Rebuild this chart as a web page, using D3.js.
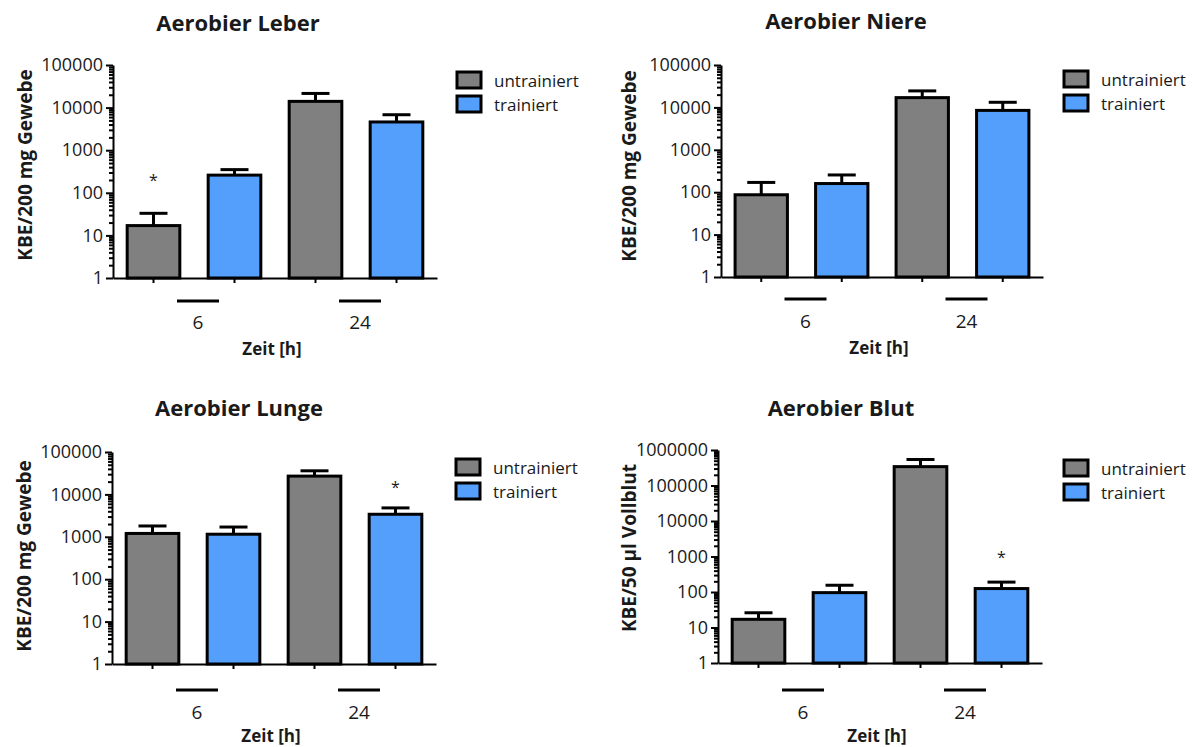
<!DOCTYPE html>
<html lang="de">
<head>
<meta charset="UTF-8">
<title>Aerobier KBE</title>
<style>
  body { margin: 0; background: #fff; }
  text { font-family: "Open Sans", "DejaVu Sans", sans-serif; fill: #1a1a1a; }
  .axis path, .axis line { stroke: #000; stroke-width: 2px; }
  .bar { stroke: #000; stroke-width: 3px; }
  .err { stroke: #000; stroke-width: 3px; }
</style>
</head>
<body>
<div id="chart"></div>
<script src="https://d3js.org/d3.v7.min.js"></script>
<script>
// categories
var groups = ["6", "24"];
var series = ["untrainiert", "trainiert"];
var colors = ["#808080", "#559ffc"];

// bar order: 6h untrainiert, 6h trainiert, 24h untrainiert, 24h trainiert
var leberMean = [17, 260, 14000, 4600];
var leberUpper = [33, 350, 21500, 6800];
var niereMean = [87, 160, 17000, 8500];
var niereUpper = [170, 255, 24500, 13200];
var lungeMean = [1200, 1150, 27000, 3400];
var lungeUpper = [1800, 1700, 36000, 4800];
var blutMean = [17, 96, 340000, 125];
var blutUpper = [26, 155, 540000, 190];

// significance stars: bar index and level (in axis units)
var leberStar = [{bar: 0, level: 235}];
var lungeStar = [{bar: 3, level: 17500}];
var blutStar = [{bar: 3, level: 1170}];

var tissueTicks = [1, 10, 100, 1000, 10000, 100000];
var bloodTicks = [1, 10, 100, 1000, 10000, 100000, 1000000];

var svg = d3.select("#chart").append("svg")
    .attr("width", 1193)
    .attr("height", 747);

var panels = [
  {title: "Aerobier Leber", ylab: "KBE/200 mg Gewebe", mean: leberMean, upper: leberUpper, stars: leberStar, ticks: tissueTicks,
   ax: 113, top: 65, bottom: 278, xEnd: 437, titleX: 238, titleY: 22, ylabX: 25, ylabY: 165, legX: 457, legY: 72, lineY: 301, labY: 322, xtY: 348},
  {title: "Aerobier Niere", ylab: "KBE/200 mg Gewebe", mean: niereMean, upper: niereUpper, stars: [], ticks: tissueTicks,
   ax: 721, top: 65, bottom: 277, xEnd: 1043, titleX: 846, titleY: 20, ylabX: 629, ylabY: 166, legX: 1064, legY: 71, lineY: 299, labY: 321, xtY: 347},
  {title: "Aerobier Lunge", ylab: "KBE/200 mg Gewebe", mean: lungeMean, upper: lungeUpper, stars: lungeStar, ticks: tissueTicks,
   ax: 112, top: 452, bottom: 664, xEnd: 436, titleX: 239, titleY: 407, ylabX: 24, ylabY: 556, legX: 456, legY: 459, lineY: 690, labY: 712, xtY: 735},
  {title: "Aerobier Blut", ylab: "KBE/50 \u00b5l Vollblut", mean: blutMean, upper: blutUpper, stars: blutStar, ticks: bloodTicks,
   ax: 718, top: 450, bottom: 663, xEnd: 1042, titleX: 841, titleY: 407, ylabX: 629, ylabY: 548, legX: 1064, legY: 460, lineY: 690, labY: 712, xtY: 735}
];

panels.forEach(drawPanel);

function drawPanel(p) {
  var g = svg.append("g");
  var keys = [];
  groups.forEach(function(gr) {
    series.forEach(function(s) { keys.push(gr + "|" + s); });
  });
  var rows = keys.map(function(k, i) {
    return {key: k, group: k.split("|")[0], s: i % 2, mean: p.mean[i], upper: p.upper[i]};
  });

  var maxV = p.ticks[p.ticks.length - 1];
  var y = d3.scaleLog().domain([1, maxV]).range([p.bottom, p.top]);
  var x = d3.scaleBand().domain(keys).range([p.ax, p.xEnd])
      .paddingInner(0.35).paddingOuter(0.175);

  // minor log ticks
  var minor = [];
  for (var d = 1; d < maxV; d *= 10) {
    for (var m = 2; m <= 9; m++) minor.push(d * m);
  }
  g.append("g").attr("class", "axis")
    .attr("transform", "translate(" + p.ax + ",0)")
    .call(d3.axisLeft(y).tickValues(minor).tickSize(4).tickSizeOuter(0).tickFormat(""))
    .select(".domain").remove();

  var yAxis = g.append("g").attr("class", "axis")
    .attr("transform", "translate(" + p.ax + ",0)")
    .call(d3.axisLeft(y).tickValues(p.ticks).tickSize(7).tickSizeOuter(0).tickPadding(3)
      .tickFormat(d3.format("d")));
  yAxis.attr("font-size", 18).attr("font-family", "'Open Sans', sans-serif");
  yAxis.selectAll("text").style("font-size", "18px").attr("fill", "#1a1a1a");

  g.append("g").attr("class", "axis")
    .attr("transform", "translate(0," + p.bottom + ")")
    .call(d3.axisBottom(x).tickSize(5).tickSizeOuter(0).tickFormat(""));

  // error bars (upper only)
  var capW = 28;
  g.selectAll(".errv").data(rows).enter().append("line")
    .attr("class", "err")
    .attr("x1", function(d) { return x(d.key) + x.bandwidth() / 2; })
    .attr("x2", function(d) { return x(d.key) + x.bandwidth() / 2; })
    .attr("y1", function(d) { return y(d.mean); })
    .attr("y2", function(d) { return y(d.upper); });
  g.selectAll(".errc").data(rows).enter().append("line")
    .attr("class", "err")
    .attr("x1", function(d) { return x(d.key) + x.bandwidth() / 2 - capW / 2; })
    .attr("x2", function(d) { return x(d.key) + x.bandwidth() / 2 + capW / 2; })
    .attr("y1", function(d) { return y(d.upper); })
    .attr("y2", function(d) { return y(d.upper); });

  g.selectAll(".bar").data(rows).enter().append("rect")
    .attr("class", "bar")
    .attr("x", function(d) { return x(d.key); })
    .attr("width", x.bandwidth())
    .attr("y", function(d) { return y(d.mean); })
    .attr("height", function(d) { return p.bottom - y(d.mean); })
    .attr("fill", function(d) { return colors[d.s]; });

  // stars
  g.selectAll(".star").data(p.stars).enter().append("text")
    .attr("x", function(d) { return x(keys[d.bar]) + x.bandwidth() / 2; })
    .attr("y", function(d) { return y(d.level) + 9; })
    .attr("text-anchor", "middle")
    .style("font-size", "16px")
    .text("*");

  // group lines + labels
  groups.forEach(function(gr) {
    var c1 = x(gr + "|" + series[0]) + x.bandwidth() / 2;
    var c2 = x(gr + "|" + series[1]) + x.bandwidth() / 2;
    var mid = (c1 + c2) / 2 + 4;
    g.append("line")
      .attr("x1", mid - 21).attr("x2", mid + 21)
      .attr("y1", p.lineY).attr("y2", p.lineY)
      .attr("stroke", "#000").attr("stroke-width", 3);
    g.append("text")
      .attr("x", mid).attr("y", p.labY)
      .attr("text-anchor", "middle")
      .attr("dominant-baseline", "central")
      .style("font-size", "19px")
      .text(gr);
  });

  g.append("text")
    .attr("x", (p.ax + p.xEnd) / 2 - 3).attr("y", p.xtY)
    .attr("text-anchor", "middle")
    .attr("dominant-baseline", "central")
    .style("font-size", "17px").style("font-weight", "bold")
    .text("Zeit [h]");

  g.append("text")
    .attr("x", p.titleX).attr("y", p.titleY)
    .attr("text-anchor", "middle")
    .attr("dominant-baseline", "central")
    .style("font-size", "22px").style("font-weight", "bold")
    .text(p.title);

  g.append("text")
    .attr("transform", "translate(" + p.ylabX + "," + p.ylabY + ") rotate(-90)")
    .attr("text-anchor", "middle")
    .attr("dominant-baseline", "central")
    .style("font-size", "19px").style("font-weight", "bold")
    .text(p.ylab);

  // legend
  var leg = g.append("g").attr("transform", "translate(" + p.legX + "," + p.legY + ")");
  series.forEach(function(s, i) {
    leg.append("rect")
      .attr("x", 0).attr("y", i * 24)
      .attr("width", 24).attr("height", 16)
      .attr("fill", colors[i]).attr("stroke", "#000").attr("stroke-width", 3);
    leg.append("text")
      .attr("x", 37).attr("y", i * 24 + 8)
      .attr("dominant-baseline", "central")
      .style("font-size", "17px")
      .text(s);
  });
}
</script>
</body>
</html>
